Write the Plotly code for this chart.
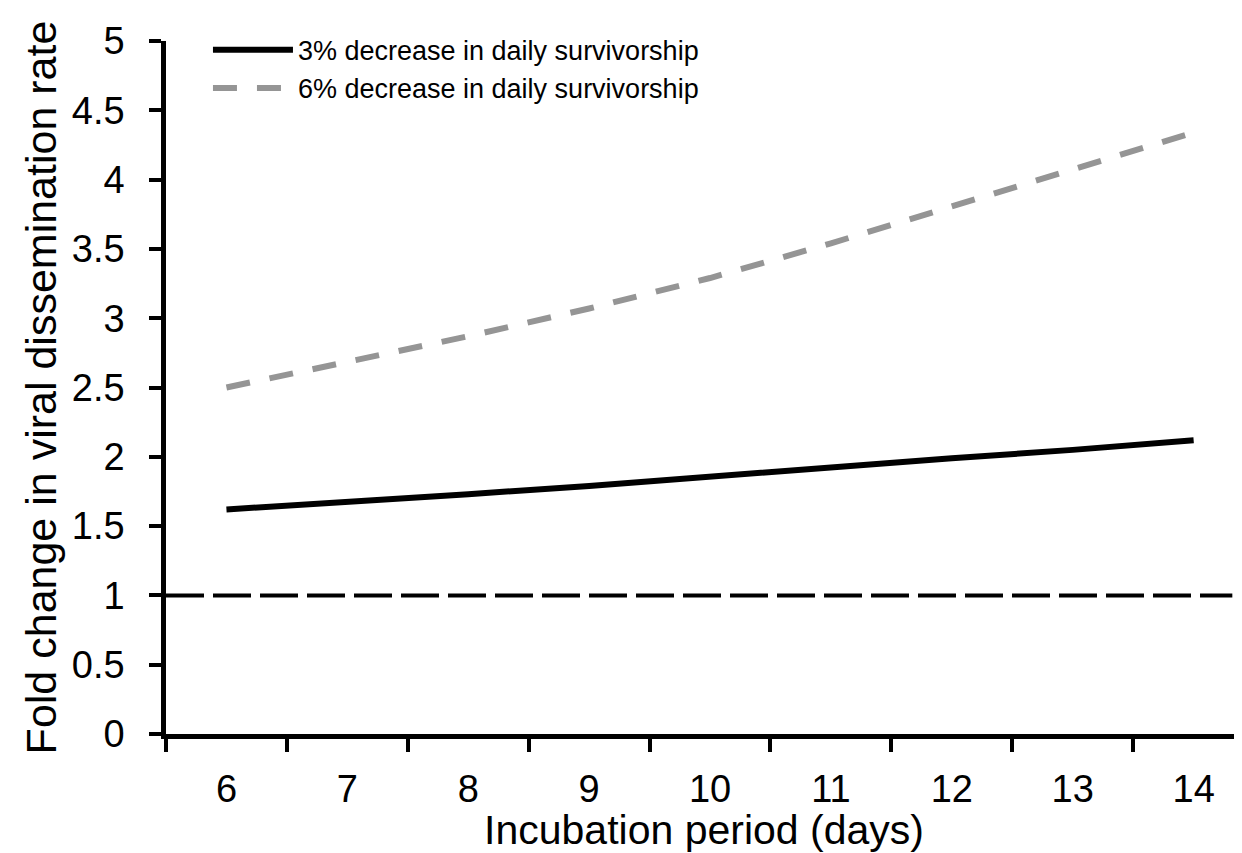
import plotly.graph_objects as go

incubation_days = [6, 7, 8, 9, 10, 11, 12, 13, 14]
decrease_3pct = [1.62, 1.67, 1.73, 1.79, 1.86, 1.92, 1.99, 2.05, 2.12]
decrease_6pct = [2.50, 2.68, 2.87, 3.07, 3.29, 3.54, 3.81, 4.07, 4.34]
series_names = ["3% decrease in daily survivorship", "6% decrease in daily survivorship"]
y_ticks = [0, 0.5, 1, 1.5, 2, 2.5, 3, 3.5, 4, 4.5, 5]
y_tick_text = ["0", "0.5", "1", "1.5", "2", "2.5", "3", "3.5", "4", "4.5", "5"]
x_boundaries = [5.5, 6.5, 7.5, 8.5, 9.5, 10.5, 11.5, 12.5, 13.5]
baseline = 1

FONT = "Arial, Liberation Sans, sans-serif"

fig = go.Figure()
fig.add_trace(go.Scatter(
    x=incubation_days, y=decrease_3pct, mode="lines", name=series_names[0],
    line=dict(color="black", width=6),
))
fig.add_trace(go.Scatter(
    x=incubation_days, y=decrease_6pct, mode="lines", name=series_names[1],
    line=dict(color="#959595", width=6, dash="24px,20px"),
))

fig.add_shape(type="line", xref="x", yref="y", x0=5.5, x1=14.32, y0=baseline, y1=baseline,
              line=dict(color="black", width=4, dash="38px,9px"), layer="above")

fig.update_layout(
    width=1234, height=845,
    margin=dict(l=158, r=0, t=33, b=119),
    plot_bgcolor="white", paper_bgcolor="white",
    font=dict(family=FONT, color="black"),
    showlegend=True,
    legend=dict(x=0.039, y=1.022, xanchor="left", yanchor="top",
                font=dict(size=27, family=FONT, color="black"),
                bgcolor="rgba(0,0,0,0)", itemwidth=80, tracegroupgap=0),
    xaxis=dict(
        range=[5.5, 14.4], tickmode="array", tickvals=incubation_days,
        ticktext=[str(d) for d in incubation_days], ticks="", showgrid=False,
        zeroline=False, showline=True, linecolor="black", linewidth=4.5,
        tickfont=dict(size=38, family=FONT),
        minor=dict(tickmode="array", tickvals=x_boundaries, ticks="outside", ticklen=13,
                   tickwidth=4, tickcolor="black", showgrid=False),
        title=dict(text="Incubation period (days)", font=dict(size=41, family=FONT), standoff=4),
        ticklabelstandoff=18,
    ),
    yaxis=dict(
        range=[0, 5], tickmode="array", tickvals=y_ticks, ticktext=y_tick_text,
        ticks="outside", ticklen=12, tickwidth=4, tickcolor="black",
        showgrid=False, zeroline=False, showline=True, linecolor="black", linewidth=4.5,
        tickfont=dict(size=38, family=FONT),
        title=dict(text="Fold change in viral dissemination rate", font=dict(size=43, family=FONT), standoff=3),
        ticklabelstandoff=17,
    ),
)

fig.write_html("out.html")
